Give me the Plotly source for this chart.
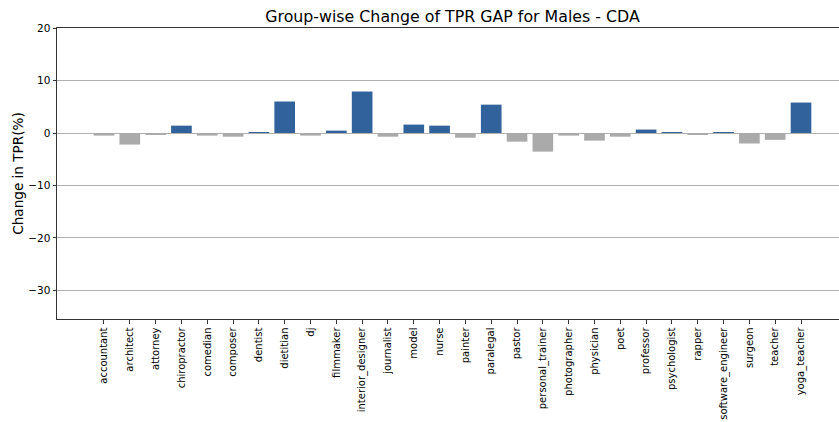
import plotly.graph_objects as go

categories = ["accountant", "architect", "attorney", "chiropractor", "comedian", "composer",
              "dentist", "dietitian", "dj", "filmmaker", "interior_designer", "journalist",
              "model", "nurse", "painter", "paralegal", "pastor", "personal_trainer",
              "photographer", "physician", "poet", "professor", "psychologist", "rapper",
              "software_engineer", "surgeon", "teacher", "yoga_teacher"]
values = [-0.5, -2.2, -0.3, 1.4, -0.5, -0.7,
          0.1, 6.0, -0.5, 0.45, 7.9, -0.7,
          1.6, 1.4, -0.9, 5.4, -1.65, -3.55,
          -0.5, -1.45, -0.7, 0.65, 0.1, -0.3,
          0.08, -2.0, -1.3, 5.8]
y_ticks = [-30, -20, -10, 0, 10, 20]

BLUE = "#31629b"
GRAY = "#aaaaaa"
colors = [BLUE if v > 0 else GRAY for v in values]

fig = go.Figure(go.Bar(x=categories, y=values, marker_color=colors,
                       marker_line_width=0, width=0.8))

fig.update_layout(
    width=848, height=422,
    margin=dict(l=57, r=0, t=28, b=103, autoexpand=False),
    plot_bgcolor="white", paper_bgcolor="white",
    font=dict(family="DejaVu Sans", color="black"),
    title=dict(text="Group-wise Change of TPR GAP for Males - CDA",
               xref="paper", x=0.5, xanchor="center",
               yref="container", y=1 - 16 / 422, yanchor="middle",
               font=dict(size=15.8, color="black")),
    showlegend=False,
    bargap=0.2,
)
fig.update_xaxes(
    range=[-1.82, 28.82], tickangle=-90, tickfont=dict(size=10), automargin=False,
    showline=True, linecolor="#333", linewidth=1, mirror=True,
    ticks="outside", ticklen=3.5, tickcolor="#333", showgrid=False,
)
fig.update_yaxes(
    range=[-35.43, 20], tickvals=y_ticks, tickfont=dict(size=10.5), automargin=False,
    showline=True, linecolor="#333", linewidth=1,
    ticks="outside", ticklen=3.5, tickcolor="#333",
    showgrid=True, gridcolor="#b0b0b0", gridwidth=0.8,
    zeroline=True, zerolinecolor="#b0b0b0", zerolinewidth=0.8,
    title=dict(text="Change in TPR(%)", font=dict(size=13.6), standoff=1),
)

fig.write_html(
    "out.html",
    config={"displayModeBar": False},
    post_script="document.body.style.margin='0';document.body.style.overflow='hidden';",
)
